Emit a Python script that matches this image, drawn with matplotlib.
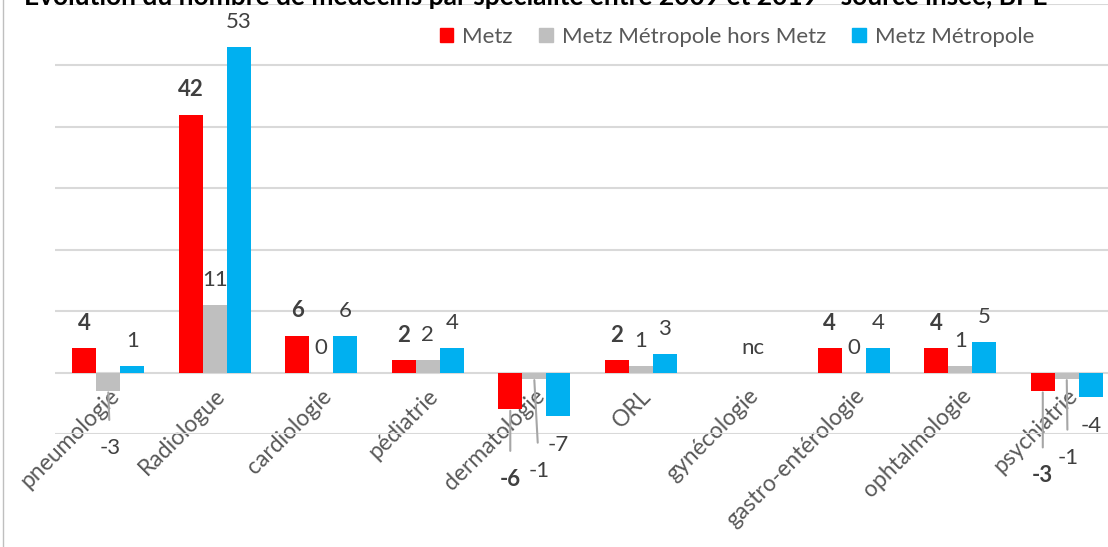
"""
Evolution du nombre de médecins par spécialité entre 2009 et 2019
(Metz, Metz Métropole hors Metz, Metz Métropole) - source insee, BPE.
"""
import matplotlib
matplotlib.use("Agg")
import matplotlib.pyplot as plt
import numpy as np
from matplotlib.lines import Line2D
from matplotlib.patches import Patch

specialites = ["pneumologie", "Radiologue", "cardiologie", "pédiatrie", "dermatologie",
               "ORL", "gynécologie", "gastro-entérologie", "ophtalmologie", "psychiatrie"]
series = ["Metz", "Metz Métropole hors Metz", "Metz Métropole"]
metz = [4, 42, 6, 2, -6, 2, np.nan, 4, 4, -3]
hors_metz = [-3, 11, 0, 2, -1, 1, np.nan, 0, 1, -1]
metropole = [1, 53, 6, 4, -7, 3, np.nan, 4, 5, -4]

COULEURS = ["#FF0000", "#BFBFBF", "#00B0F0"]
TEXTE = "#404040"
FONT = ["Lato", "DejaVu Sans"]
TAILLE = 16

# étiquettes déplacées à la main (avec trait de rappel), décalage en pixels
DECALAGES = {
    (1, 0): (2, -57),
    (0, 4): (0, -70),
    (1, 4): (5, -92),
    (0, 9): (0, -85),
    (1, 9): (1, -79),
}


def main():
    plt.rcParams["font.family"] = FONT
    fig = plt.figure(figsize=(11.08, 5.47), dpi=100)
    ax = fig.add_axes([55 / 1108, 1 - 434 / 547, 1065 / 1108, 430 / 547])

    x = np.arange(len(specialites))
    width = 0.225
    valeurs = [metz, hors_metz, metropole]

    for i, (vals, couleur) in enumerate(zip(valeurs, COULEURS)):
        pos = x + (i - 1) * width
        ax.bar(pos, np.nan_to_num(vals), width=width, color=couleur, zorder=3)
        for j, v in enumerate(vals):
            if np.isnan(v):
                continue
            poids = "bold" if i == 0 else "normal"
            if (i, j) in DECALAGES:
                dx, dy = DECALAGES[(i, j)]
                ax.annotate(f"{v:g}", xy=(pos[j], v), xytext=(dx, dy), textcoords="offset pixels",
                            ha="center", va="center", fontsize=TAILLE, color=TEXTE, fontweight=poids,
                            arrowprops=dict(arrowstyle="-", color="#A6A6A6", lw=1.5,
                                            shrinkA=11, shrinkB=1))
            else:
                dy = 25 if v >= 0 else -29
                ax.annotate(f"{v:g}", xy=(pos[j], v), xytext=(0, dy), textcoords="offset pixels",
                            ha="center", va="center", fontsize=TAILLE, color=TEXTE, fontweight=poids)

    # gynécologie : pas de données
    nc = specialites.index("gynécologie")
    ax.annotate("nc", xy=(x[nc], 0), xytext=(6, 25), textcoords="offset pixels",
                ha="center", va="center", fontsize=TAILLE, color=TEXTE)

    ax.set_xlim(-0.5, 9.5)
    ax.set_ylim(-10, 60)
    ax.set_yticks(np.arange(-10, 61, 10))
    ax.yaxis.grid(True, color="#D9D9D9", lw=1.5, zorder=0)
    ax.set_yticklabels([])
    ax.tick_params(axis="y", length=0)

    ax.spines["bottom"].set_position(("data", 0))
    for s in ax.spines.values():
        s.set_visible(False)
    ax.set_xticks(x)
    ax.set_xticklabels(specialites, rotation=45, ha="right", rotation_mode="anchor",
                       fontsize=16.5, color="#595959")
    ax.tick_params(axis="x", length=0, pad=9)

    handles = [Patch(color=c) for c in COULEURS]
    fig.legend(handles, series, loc="center", bbox_to_anchor=(737 / 1108, 1 - 37 / 547),
               ncol=3, frameon=False, fontsize=TAILLE, labelcolor="#595959",
               handlelength=0.6, handleheight=0.6, handletextpad=0.4, columnspacing=1.2)

    fig.text(536 / 1108, 1 - 5 / 547,
             "Evolution du nombre de médecins par spécialité entre 2009 et 2019 - source insee, BPE",
             ha="center", va="baseline", fontsize=19, fontweight="bold", color="black")
    fig.add_artist(Line2D([3 / 1108, 3 / 1108], [0, 1], color="#BFBFBF", lw=1,
                          transform=fig.transFigure))

    fig.savefig("out.png", dpi=100)


if __name__ == "__main__":
    main()
